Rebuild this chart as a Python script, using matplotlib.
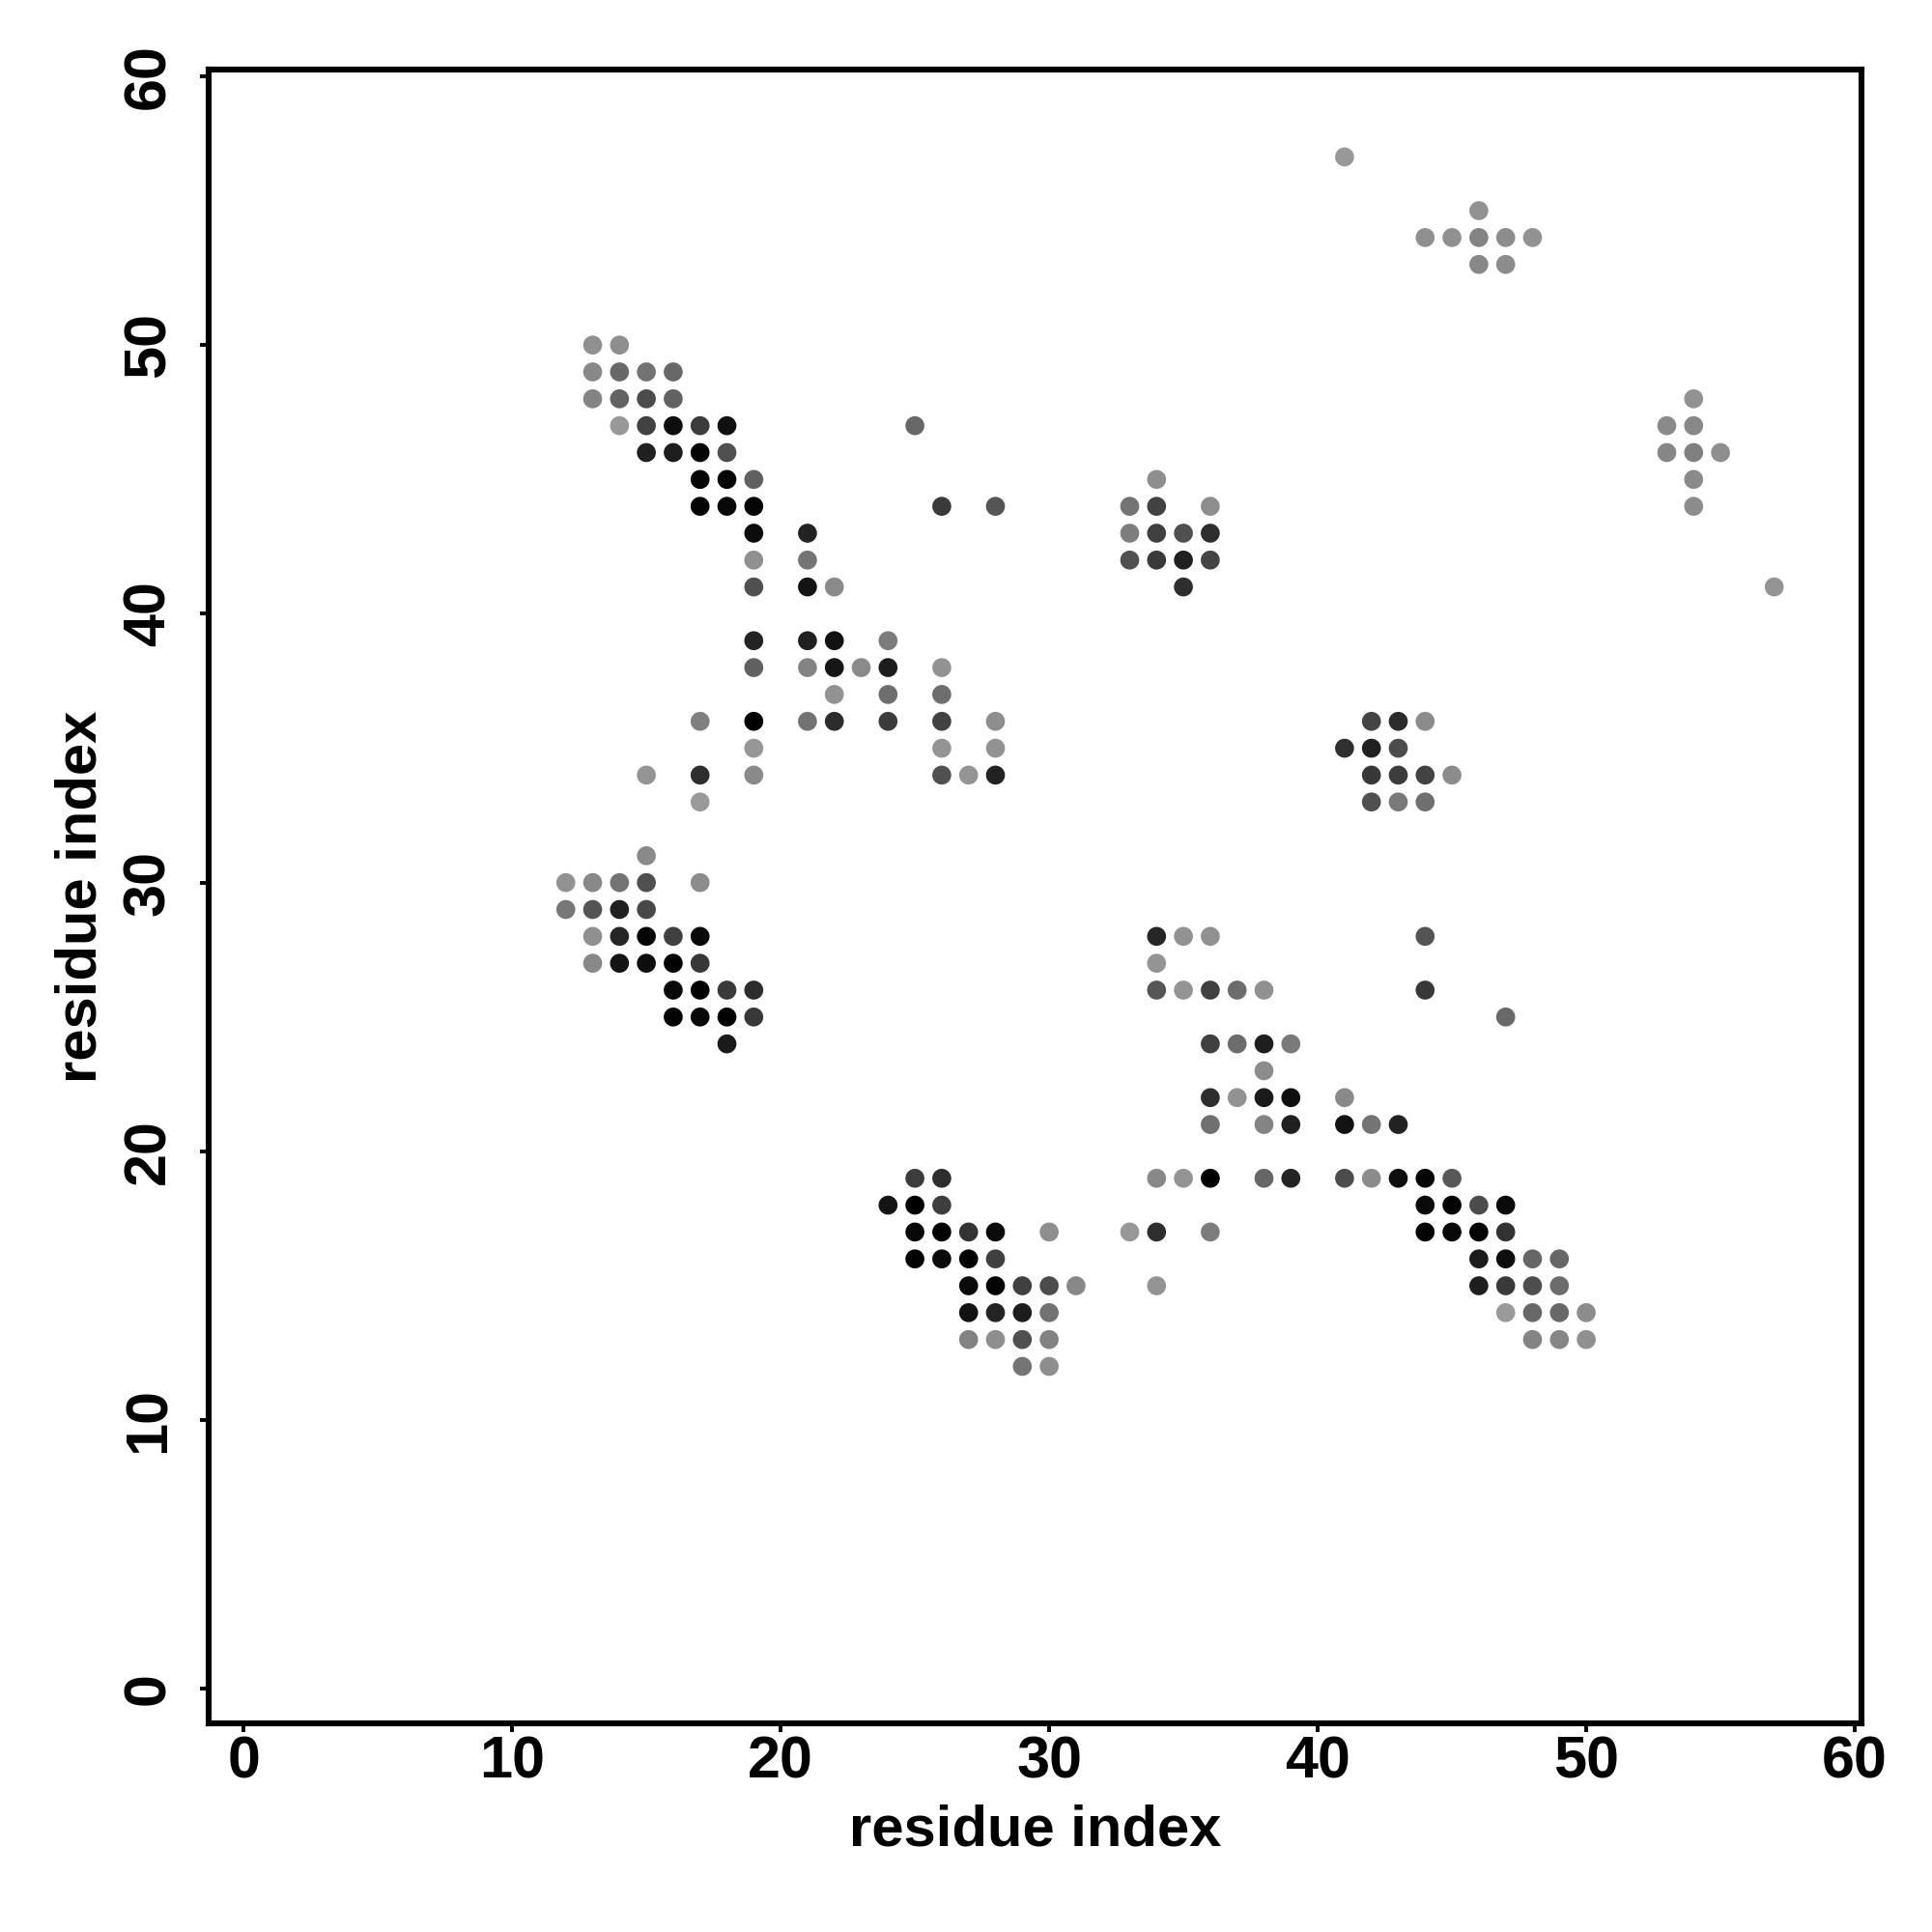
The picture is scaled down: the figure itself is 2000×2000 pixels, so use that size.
#!/usr/bin/env python3
"""Residue contact map, dots shaded by contact strength."""

import matplotlib
matplotlib.use("Agg")
import matplotlib.pyplot as plt

plt.rcParams['font.family'] = ['Liberation Sans', 'DejaVu Sans']

# one line per y row: x residue, y residue, shade (0 black .. 255 white)
res_x = [
    41,
    46,
    44, 45, 46, 47, 48,
    46, 47,
    13, 14,
    13, 14, 15, 16,
    13, 14, 15, 16, 54,
    14, 15, 16, 17, 18, 25, 53, 54,
    15, 16, 17, 18, 53, 54, 55,
    17, 18, 19, 34, 54,
    17, 18, 19, 26, 28, 33, 34, 36, 54,
    19, 21, 33, 34, 35, 36,
    19, 21, 33, 34, 35, 36,
    19, 21, 22, 35, 57,
    19, 21, 22, 24,
    19, 21, 22, 23, 24, 26,
    22, 24, 26,
    17, 19, 21, 22, 24, 26, 28, 42, 43, 44,
    19, 26, 28, 41, 42, 43,
    15, 17, 19, 26, 27, 28, 42, 43, 44, 45,
    17, 42, 43, 44,
    15,
    12, 13, 14, 15, 17,
    12, 13, 14, 15,
    13, 14, 15, 16, 17, 34, 35, 36, 44,
    13, 14, 15, 16, 17, 34,
    16, 17, 18, 19, 34, 35, 36, 37, 38, 44,
    16, 17, 18, 19, 47,
    18, 36, 37, 38, 39,
    38,
    36, 37, 38, 39, 41,
    36, 38, 39, 41, 42, 43,
    25, 26, 34, 35, 36, 38, 39, 41, 42, 43, 44, 45,
    24, 25, 26, 44, 45, 46, 47,
    25, 26, 27, 28, 30, 33, 34, 36, 44, 45, 46, 47,
    25, 26, 27, 28, 46, 47, 48, 49,
    27, 28, 29, 30, 31, 34, 46, 47, 48, 49,
    27, 28, 29, 30, 47, 48, 49, 50,
    27, 28, 29, 30, 48, 49, 50,
    29, 30,
]
res_y = [
    57,
    55,
    54, 54, 54, 54, 54,
    53, 53,
    50, 50,
    49, 49, 49, 49,
    48, 48, 48, 48, 48,
    47, 47, 47, 47, 47, 47, 47, 47,
    46, 46, 46, 46, 46, 46, 46,
    45, 45, 45, 45, 45,
    44, 44, 44, 44, 44, 44, 44, 44, 44,
    43, 43, 43, 43, 43, 43,
    42, 42, 42, 42, 42, 42,
    41, 41, 41, 41, 41,
    39, 39, 39, 39,
    38, 38, 38, 38, 38, 38,
    37, 37, 37,
    36, 36, 36, 36, 36, 36, 36, 36, 36, 36,
    35, 35, 35, 35, 35, 35,
    34, 34, 34, 34, 34, 34, 34, 34, 34, 34,
    33, 33, 33, 33,
    31,
    30, 30, 30, 30, 30,
    29, 29, 29, 29,
    28, 28, 28, 28, 28, 28, 28, 28, 28,
    27, 27, 27, 27, 27, 27,
    26, 26, 26, 26, 26, 26, 26, 26, 26, 26,
    25, 25, 25, 25, 25,
    24, 24, 24, 24, 24,
    23,
    22, 22, 22, 22, 22,
    21, 21, 21, 21, 21, 21,
    19, 19, 19, 19, 19, 19, 19, 19, 19, 19, 19, 19,
    18, 18, 18, 18, 18, 18, 18,
    17, 17, 17, 17, 17, 17, 17, 17, 17, 17, 17, 17,
    16, 16, 16, 16, 16, 16, 16, 16,
    15, 15, 15, 15, 15, 15, 15, 15, 15, 15,
    14, 14, 14, 14, 14, 14, 14, 14,
    13, 13, 13, 13, 13, 13, 13,
    12, 12,
]
shade = [
    0x98,
    0x92,
    0x90, 0x90, 0x84, 0x8c, 0x92,
    0x88, 0x8c,
    0x90, 0x8e,
    0x88, 0x68, 0x72, 0x68,
    0x84, 0x62, 0x4c, 0x62, 0x92,
    0x98, 0x42, 0x0e, 0x3c, 0x10, 0x68, 0x8a, 0x88,
    0x20, 0x1e, 0x04, 0x50, 0x86, 0x80, 0x8e,
    0x06, 0x04, 0x60, 0x8e, 0x8a,
    0x04, 0x08, 0x04, 0x3a, 0x55, 0x74, 0x42, 0x8e, 0x8c,
    0x0c, 0x22, 0x7e, 0x40, 0x50, 0x2e,
    0x90, 0x74, 0x50, 0x3a, 0x20, 0x44,
    0x50, 0x14, 0x8a, 0x2e, 0x94,
    0x24, 0x20, 0x12, 0x7c,
    0x60, 0x84, 0x16, 0x8a, 0x1c, 0x92,
    0x92, 0x6e, 0x6e,
    0x80, 0x00, 0x72, 0x2c, 0x3c, 0x42, 0x8e, 0x44, 0x2c, 0x8c,
    0x96, 0x94, 0x92, 0x30, 0x20, 0x4c,
    0x94, 0x2e, 0x8a, 0x50, 0x94, 0x22, 0x38, 0x3c, 0x42, 0x8c,
    0x9a, 0x50, 0x7a, 0x70,
    0x8a,
    0x92, 0x88, 0x74, 0x50, 0x8c,
    0x78, 0x54, 0x20, 0x48,
    0x90, 0x26, 0x06, 0x40, 0x08, 0x26, 0x92, 0x90, 0x54,
    0x88, 0x14, 0x0e, 0x02, 0x38, 0x94,
    0x08, 0x02, 0x3a, 0x2c, 0x56, 0x94, 0x40, 0x6c, 0x90, 0x38,
    0x04, 0x08, 0x00, 0x38, 0x6a,
    0x1a, 0x40, 0x6c, 0x1e, 0x7a,
    0x8c,
    0x2e, 0x92, 0x1a, 0x0e, 0x8a,
    0x70, 0x84, 0x20, 0x12, 0x74, 0x22,
    0x3c, 0x2e, 0x88, 0x94, 0x00, 0x66, 0x24, 0x4c, 0x8c, 0x0e, 0x06, 0x58,
    0x14, 0x00, 0x3e, 0x0a, 0x02, 0x4c, 0x0a,
    0x08, 0x02, 0x34, 0x0a, 0x8e, 0x98, 0x2e, 0x7c, 0x02, 0x08, 0x04, 0x32,
    0x02, 0x0a, 0x00, 0x40, 0x1c, 0x0e, 0x66, 0x66,
    0x0a, 0x04, 0x40, 0x4c, 0x88, 0x94, 0x1e, 0x3a, 0x4e, 0x6c,
    0x12, 0x24, 0x1c, 0x72, 0x9a, 0x68, 0x68, 0x8c,
    0x82, 0x8e, 0x50, 0x82, 0x84, 0x86, 0x90,
    0x74, 0x8e,
]
tick_values = [0, 10, 20, 30, 40, 50, 60]
axis_label = 'residue index'

fig = plt.figure(figsize=(10, 10), dpi=200)
ax = fig.add_axes([0.108, 0.108, 0.8555, 0.856])

ax.scatter(res_x, res_y, c=shade, cmap='gray', vmin=0, vmax=255, s=50, linewidths=0, clip_on=False)

ax.set_xlim(-1.3, 60.25)
ax.set_ylim(-1.28, 60.25)
ax.set_xticks(tick_values)
ax.set_yticks(tick_values)
ax.tick_params(length=3.2, width=1.4, labelsize=22, pad=3)
ax.tick_params(axis='x', pad=1.2)
ax.tick_params(axis='y', pad=8.5)
for lab in ax.get_xticklabels() + ax.get_yticklabels():
    lab.set_fontweight('bold')
for lab in ax.get_yticklabels():
    lab.set_rotation(90)
    lab.set_va('center')
for spine in ax.spines.values():
    spine.set_linewidth(2.2)

ax.set_xlabel(axis_label, fontsize=21.5, fontweight='bold', labelpad=5)
ax.set_ylabel(axis_label, fontsize=21.5, fontweight='bold', labelpad=5.5)

fig.savefig('out.png', dpi=200)
